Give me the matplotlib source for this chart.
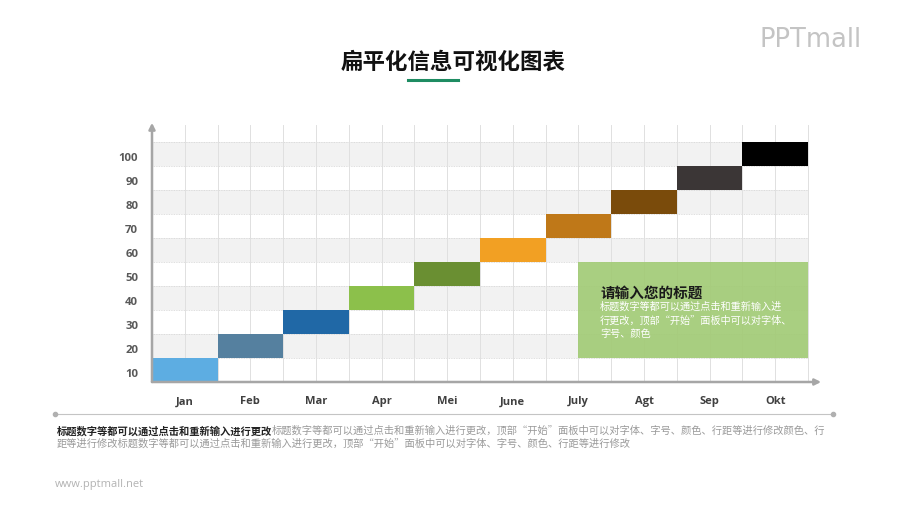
import matplotlib
matplotlib.use("Agg")
import matplotlib.pyplot as plt
from matplotlib.patches import Rectangle

plt.rcParams['font.family'] = ['Noto Sans CJK SC', 'DejaVu Sans']

# data
months = ['Jan', 'Feb', 'Mar', 'Apr', 'Mei', 'June', 'July', 'Agt', 'Sep', 'Okt']
values = [10, 20, 30, 40, 50, 60, 70, 80, 90, 100]
bar_colors = ['#5dade2', '#55809f', '#2068a6', '#8cc04b', '#6a8f32',
              '#f2a023', '#bf7818', '#7a4b0b', '#3b3636', '#000000']
ytick_labels = ['10', '20', '30', '40', '50', '60', '70', '80', '90', '100']

title = '扁平化信息可视化图表'
box_title = '请输入您的标题'
box_lines = ['标题数字等都可以通过点击和重新输入进',
             '行更改，顶部“开始”面板中可以对字体、',
             '字号、颜色']
note_bold = '标题数字等都可以通过点击和重新输入进行更改'
note_gray1 = '标题数字等都可以通过点击和重新输入进行更改，顶部“开始”面板中可以对字体、字号、颜色、行距等进行修改颜色、行'
note_gray2 = '距等进行修改标题数字等都可以通过点击和重新输入进行更改，顶部“开始”面板中可以对字体、字号、颜色、行距等进行修改'

W, H = 900, 506
fig = plt.figure(figsize=(W / 100, H / 100), dpi=100)
fig.patch.set_facecolor('white')

# chart area: x 152..808 px, y 143..383 px
ax = fig.add_axes([152 / W, (H - 383) / H, 656 / W, 240 / H])
ax.set_xlim(0, 10)
ax.set_ylim(0, 100)
for s in ax.spines.values():
    s.set_visible(False)
ax.set_xticks([])
ax.set_yticks([])
ax.patch.set_alpha(0)

# alternating bands
for k, v in enumerate(values):
    if k % 2 == 1:
        ax.add_patch(Rectangle((0, v - 10), 10, 10, facecolor='#f2f2f2',
                               edgecolor='none', zorder=0))
# horizontal dotted lines
for v in values:
    ax.plot([0, 10], [v, v], color='#d4d4d4', lw=0.6, ls=(0, (1, 1)), zorder=1)
# vertical lines at half columns
for i in range(1, 21):
    ax.plot([i / 2, i / 2], [0, 107], color='#e0e0e0', lw=0.7,
            zorder=1, clip_on=False)

# bars
x = list(range(len(months)))
ax.bar(x, [10] * len(values), bottom=[v - 10 for v in values], width=1,
       align='edge', color=bar_colors, zorder=3)

# axes arrows
ax.annotate('', xy=(0, 108), xytext=(0, 0), annotation_clip=False,
            arrowprops=dict(arrowstyle='-|>', color='#a6a6a6', lw=1.8,
                            mutation_scale=9, shrinkA=0, shrinkB=0), zorder=5)
ax.annotate('', xy=(10.2, 0), xytext=(0, 0), annotation_clip=False,
            arrowprops=dict(arrowstyle='-|>', color='#a6a6a6', lw=1.8,
                            mutation_scale=9, shrinkA=0, shrinkB=0), zorder=5)

# tick labels
for v, lab in zip(values, ytick_labels):
    ax.text(-0.21, v - 6.5, lab, ha='right', va='center', fontsize=8.2,
            color='#595959', fontweight='bold', family='Open Sans')
for i, m in enumerate(months):
    ax.text(i + 0.5, -7.9, m, ha='center', va='center', fontsize=8,
            color='#404040', fontweight='bold', family='Open Sans')

# green text box
ax.add_patch(Rectangle((6.5, 10), 3.5, 40, facecolor='#a2cb76', alpha=0.92,
                       edgecolor='none', zorder=4))
ax.text(6.83, 37.5, box_title, ha='left', va='center', fontsize=10.5,
        fontweight='bold', color='#1a1a1a', zorder=6)
for j, line in enumerate(box_lines):
    ax.text(6.83, 31.6 - j * 5.6, line, ha='left', va='center', fontsize=7.3,
            color='white', zorder=6)

# title and underline
fig.text(453 / W, 1 - 62 / H, title, ha='center', va='center', fontsize=16.2,
         fontweight='bold', color='#111111')
fig.add_artist(plt.Line2D([408 / W, 458 / W], [1 - 81 / H, 1 - 81 / H],
                          color='#1e8c62', lw=2.2))

# logo
fig.text(811 / W, 1 - 40 / H, 'PPTmall', ha='center', va='center',
         fontsize=18.5, color='#c4c4c4', family='DejaVu Sans')

# bottom separator
fig.add_artist(plt.Line2D([55 / W, 833 / W], [1 - 415 / H, 1 - 415 / H],
                          color='#c4c4c4', lw=0.8))
fig.add_artist(plt.Line2D([55 / W, 833 / W], [1 - 415 / H, 1 - 415 / H],
                          color='#b0b0b0', lw=0, marker='o', markersize=3))

# bottom note
t1 = fig.text(57 / W, 1 - 431 / H, note_bold, ha='left', va='center',
              fontsize=7.4, fontweight='bold', color='#222222')
fig.canvas.draw()
bb = t1.get_window_extent(fig.canvas.get_renderer())
fig.text(bb.x1 / W, 1 - 431 / H, note_gray1, ha='left', va='center',
         fontsize=7.4, color='#9a9a9a')
fig.text(57 / W, 1 - 444 / H, note_gray2, ha='left', va='center',
         fontsize=7.4, color='#9a9a9a')

# footer
fig.text(55 / W, 1 - 485 / H, 'www.pptmall.net', ha='left', va='center',
         fontsize=8, color='#b3b3b3', family='Open Sans')

fig.savefig('out.png', dpi=100, facecolor='white')
